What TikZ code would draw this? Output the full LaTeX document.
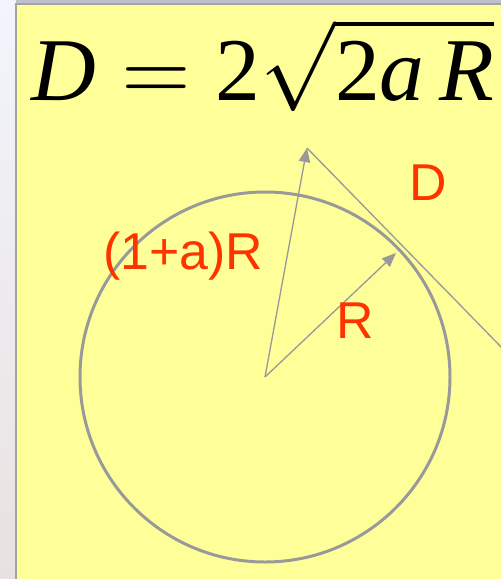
\documentclass[tikz,border=0pt]{standalone}
\usepackage{fontspec}
\setmainfont{Liberation Serif}
\newfontfamily\labelfont{Liberation Sans}
\usetikzlibrary{arrows.meta}
\definecolor{SlideYellow}{HTML}{FFFF99}
\definecolor{LineGray}{HTML}{999999}
\definecolor{LabelRed}{HTML}{FF3300}
\definecolor{FrameGray}{HTML}{A3A3A3}
\definecolor{BackTop}{HTML}{F2F5FC}
\definecolor{BackBottom}{HTML}{E9E1E1}
\definecolor{BarGray}{HTML}{BEC1CB}

\tikzset{
  guide/.style={LineGray,line width=.75pt},
  ray/.style={guide,-{Triangle[length=8pt,width=6.5pt]}},
  lbl/.style={font=\labelfont\fontsize{29.5}{32}\selectfont,text=LabelRed,anchor=base,inner sep=0pt},
}

\begin{document}
\begin{tikzpicture}[x=0.02cm,y=-0.02cm]
\useasboundingbox (0,0) rectangle (501,579);
% fondo
\shade[top color=BackTop,bottom color=BackBottom] (0,0) rectangle (501,579);
\fill[BarGray] (16,0) rectangle (501,4);
\draw[FrameGray,line width=.9pt,fill=SlideYellow] (16,4) rectangle (520,600);

% formula
\node[anchor=base,inner sep=0pt] (formula) at (263,100)
  {\scalebox{5.1}{$\textit{D}=\textrm{2}\sqrt{\textrm{2}\textit{a}\,\textit{R}}$}};

% circulo y radios
\coordinate (o) at (265,377);
\coordinate (a) at (307,148);
\coordinate (t) at (396,253);
\coordinate (dEnd) at (505,351);
\draw[LineGray,line width=1.7pt] (o) circle[radius=185];
\draw[ray] (o) -- (a);
\draw[ray] (o) -- (t);
\draw[guide] (a) -- (dEnd);

% etiquetas
\node[lbl] (lblBig) at (183,269) {(1+a)R};
\node[lbl] (lblR) at (355,338) {R};
\node[lbl] (lblD) at (428,200) {D};
\end{tikzpicture}
\end{document}
